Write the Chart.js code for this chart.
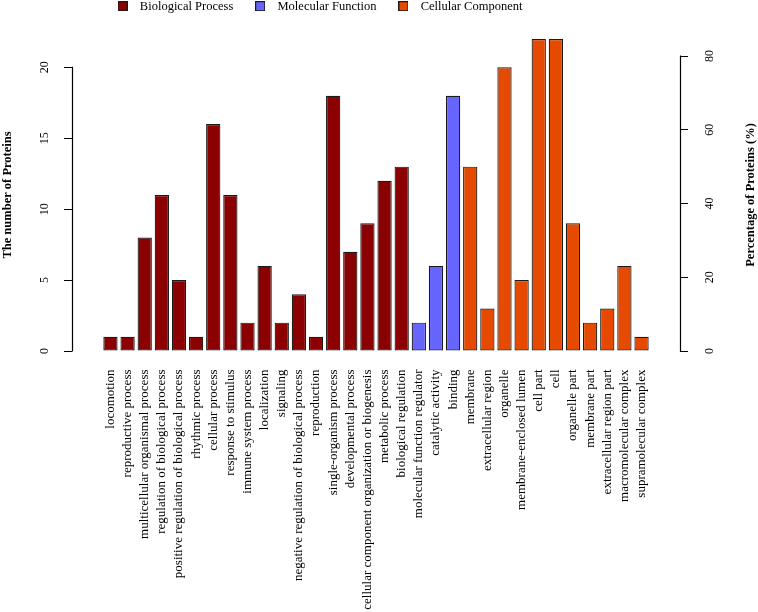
<!DOCTYPE html>
<html>
<head>
<meta charset="utf-8">
<script src="https://cdn.jsdelivr.net/npm/chart.js@4.4.0/dist/chart.umd.min.js"></script>
<style>
  body { margin: 0; background: #fff; }
</style>
</head>
<body>
<canvas id="goChart" width="758" height="612"></canvas>
<script>
// GO level-2 terms (number of proteins per term)
let bpTerms = ['locomotion', 'reproductive process', 'multicellular organismal process',
    'regulation of biological process', 'positive regulation of biological process',
    'rhythmic process', 'cellular process', 'response to stimulus', 'immune system process',
    'localization', 'signaling', 'negative regulation of biological process', 'reproduction',
    'single-organism process', 'developmental process',
    'cellular component organization or biogenesis', 'metabolic process', 'biological regulation'];
let bpCounts = [1, 1, 8, 11, 5, 1, 16, 11, 2, 6, 2, 4, 1, 18, 7, 9, 12, 13];

let mfTerms = ['molecular function regulator', 'catalytic activity', 'binding'];
let mfCounts = [2, 6, 18];

let ccTerms = ['membrane', 'extracellular region', 'organelle', 'membrane-enclosed lumen',
    'cell part', 'cell', 'organelle part', 'membrane part', 'extracellular region part',
    'macromolecular complex', 'supramolecular complex'];
let ccCounts = [13, 3, 20, 5, 22, 22, 9, 2, 3, 6, 1];

let groupNames = ['Biological Process', 'Molecular Function', 'Cellular Component'];
let groupColors = ['#8B0000', '#6666FF', '#E64A00'];

let countTicks = [0, 5, 10, 15, 20];
let percentTicks = [0, 20, 40, 60, 80];
let totalProteins = 26;   // 80 % sits at ~20.8 proteins

let serif = '"Liberation Serif", "Times New Roman", serif';

let terms = bpTerms.concat(mfTerms, ccTerms);
let allCounts = bpCounts.concat(mfCounts, ccCounts);

// R barplot style ranges: bars of width 1, space 0.2, axes extended by 4%
let xPad = 0.5 / 1.2 + 0.04 * (terms.length * 1.2 - 0.2) / 1.2;
let yMax = Math.max(...allCounts);
let yLo = -0.04 * yMax, yHi = yMax * 1.04;

// small square legend key, so the gap to the label can be wider than Chart.js gives
function legendKey(color) {
    let c = document.createElement('canvas');
    c.width = 10;
    c.height = 10;
    let g = c.getContext('2d');
    g.fillStyle = color;
    g.fillRect(0.5, 0.5, 9, 9);
    g.strokeStyle = '#1a1a1a';
    g.lineWidth = 1;
    g.strokeRect(0.5, 0.5, 9, 9);
    return c;
}

let offset = 0;
let datasets = [bpCounts, mfCounts, ccCounts].map((counts, g) => {
    let data = counts.map((v, i) => ({ x: offset + i, y: v }));
    offset += counts.length;
    return {
        label: groupNames[g],
        data: data,
        backgroundColor: groupColors[g],
        borderColor: '#1a1a1a',
        borderWidth: 1.2,
        borderSkipped: false,
        grouped: false,
        categoryPercentage: 1,
        barPercentage: 1 / 1.2,
        pointStyle: legendKey(groupColors[g]),
        yAxisID: 'y'
    };
});

// R draws the y axis lines only between first and last tick, right title reads upward
let rStyleAxes = {
    id: 'rStyleAxes',
    afterLayout(chart) {
        let lg = chart.legend;
        lg.left -= 62; lg.right -= 62;
        lg.top -= 4; lg.bottom -= 4;
    },
    afterDraw(chart) {
        let ctx = chart.ctx;
        let yl = chart.scales.y, yr = chart.scales.y2;
        let axes = [[yl, yl.right, countTicks], [yr, yr.left, percentTicks]];
        ctx.save();
        ctx.strokeStyle = '#000';
        ctx.lineWidth = 1.2;
        axes.forEach(a => {
            let s = a[0], x = Math.round(a[1]) + 0.5, t = a[2];
            ctx.beginPath();
            ctx.moveTo(x, s.getPixelForValue(t[0]) + 0.5);
            ctx.lineTo(x, s.getPixelForValue(t[t.length - 1]) - 0.5);
            ctx.stroke();
        });
        ctx.font = 'bold 12.5px ' + serif;
        ctx.fillStyle = '#000';
        ctx.textAlign = 'center';
        ctx.textBaseline = 'middle';
        ctx.translate(yr.right - 7, (yr.top + yr.bottom) / 2);
        ctx.rotate(-Math.PI / 2);
        ctx.fillText('Percentage of Proteins (%)', 0, 0);
        ctx.restore();
    }
};

let tickFont = { family: serif, size: 12 };

new Chart(document.getElementById('goChart'), {
    type: 'bar',
    data: { datasets: datasets },
    plugins: [rStyleAxes],
    options: {
        responsive: false,
        animation: false,
        layout: { padding: { top: -12, left: 0, right: 0, bottom: 0 } },
        plugins: {
            tooltip: { enabled: false },
            legend: {
                position: 'top',
                labels: {
                    usePointStyle: true,
                    pointStyleWidth: 22,
                    boxHeight: 9,
                    padding: 16,
                    color: '#000',
                    font: { family: serif, size: 12.5 }
                }
            }
        },
        scales: {
            x: {
                type: 'linear',
                min: -xPad,
                max: terms.length - 1 + xPad,
                grid: { display: false, drawTicks: false },
                border: { display: false },
                afterBuildTicks: s => { s.ticks = terms.map((t, i) => ({ value: i })); },
                afterFit: s => { s.height = 248.5; },
                ticks: {
                    autoSkip: false,
                    minRotation: 90,
                    maxRotation: 90,
                    padding: 6,
                    color: '#000',
                    font: { family: serif, size: 13 },
                    callback: v => terms[v]
                }
            },
            y: {
                position: 'left',
                min: yLo,
                max: yHi,
                afterBuildTicks: s => { s.ticks = countTicks.map(v => ({ value: v })); },
                afterFit: s => { s.width = 72; },
                grid: { drawOnChartArea: false, tickLength: 8, color: '#000' },
                border: { display: false },
                ticks: { minRotation: 90, maxRotation: 90, crossAlign: 'center', padding: 13, color: '#000', font: tickFont },
                title: {
                    display: true,
                    text: 'The number of Proteins',
                    color: '#000',
                    padding: { top: 0, bottom: 0 },
                    font: { family: serif, size: 12.5, weight: 'bold' }
                }
            },
            y2: {
                position: 'right',
                min: yLo * 100 / totalProteins,
                max: yHi * 100 / totalProteins,
                afterBuildTicks: s => { s.ticks = percentTicks.map(v => ({ value: v })); },
                afterFit: s => { s.width = 78; },
                grid: { drawOnChartArea: false, tickLength: 8, color: '#000' },
                border: { display: false },
                ticks: { minRotation: 90, maxRotation: 90, crossAlign: 'center', padding: 16, color: '#000', font: tickFont }
            }
        }
    }
});
</script>
</body>
</html>
